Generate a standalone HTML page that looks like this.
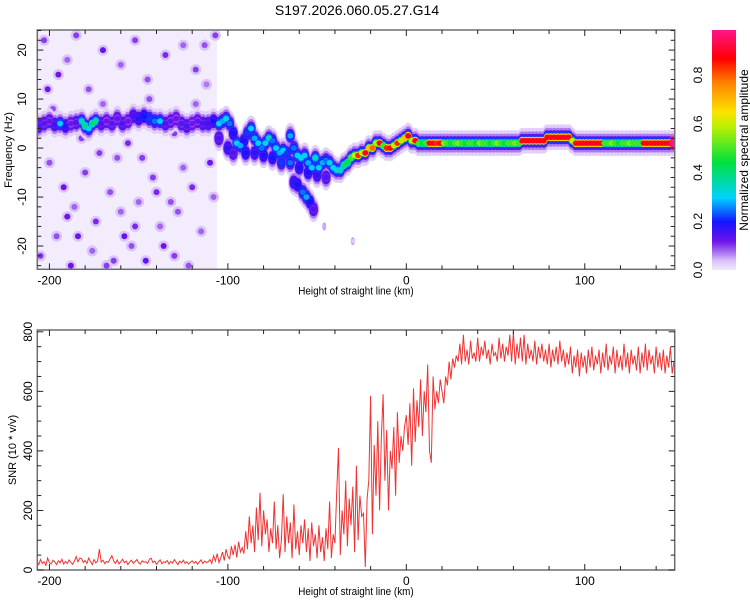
<!DOCTYPE html>
<html><head><meta charset="utf-8"><style>
body{margin:0;background:#fff;}
svg{display:block;font-family:"Liberation Sans",sans-serif;}
</style></head><body>
<svg id="c" width="750" height="600" viewBox="0 0 750 600">
<defs>
<clipPath id="clipTop"><rect x="37.3" y="30" width="637.4" height="239.3"/></clipPath>
<clipPath id="clipBot"><rect x="37.3" y="330" width="637.4" height="240"/></clipPath>
<linearGradient id="cbGrad" x1="0" y1="1" x2="0" y2="0">
<stop offset="0" stop-color="#f2eafc"/><stop offset="0.04" stop-color="#d7bef8"/><stop offset="0.08" stop-color="#a064f0"/>
<stop offset="0.12" stop-color="#6e14eb"/><stop offset="0.2" stop-color="#1414ff"/><stop offset="0.3" stop-color="#00d2ff"/>
<stop offset="0.45" stop-color="#00e13c"/><stop offset="0.6" stop-color="#bef000"/><stop offset="0.66" stop-color="#ffe100"/>
<stop offset="0.78" stop-color="#ff8200"/><stop offset="0.88" stop-color="#ff0000"/><stop offset="1" stop-color="#ff148c"/>
</linearGradient>
</defs>
<text x="357" y="15" font-size="14" text-anchor="middle" fill="#000">S197.2026.060.05.27.G14</text>
<g id="topPanel"></g>
<g id="botPanel"></g>
<g id="cbPanel"></g>
</svg>
<script>
// ---- SNR data (1 km steps from -207 to 150) ----
const snrStartKm = -207;
const snrValues = [
30,18,35,22,28,15,40,25,20,33,27,18,31,24,36,20,29,22,34,26,
19,30,45,28,40,38,25,32,22,40,28,18,35,24,30,70,27,33,21,29,
26,38,48,30,22,34,20,28,36,25,30,18,27,33,22,29,35,24,20,31,
26,28,22,36,40,25,30,19,27,34,21,28,25,32,20,29,23,35,27,18,
30,24,33,22,28,20,26,31,23,29,19,27,34,22,30,25,28,
35,22,48,30,55,25,40,60,32,70,45,38,80,50,85,42,95,60,75,55,
130,70,180,90,150,60,210,100,260,80,
200,120,170,60,140,90,230,70,150,40,
100,255,60,180,90,160,40,220,70,130,
50,150,90,170,60,140,30,160,80,120,
40,150,60,110,30,140,70,230,40,120,
90,260,410,50,200,120,300,80,240,150,280,60,350,100,250,180,190,10,240,300,
585,120,420,250,500,200,440,590,300,470,200,400,340,480,250,530,360,450,400,480,
520,420,560,350,610,430,570,480,640,450,600,530,690,400,360,650,540,600,560,640,
600,560,650,620,700,640,710,680,720,700,
760,690,790,700,740,690,770,710,730,700,780,700,750,720,770,710,740,690,760,720,
730,700,780,710,760,700,750,720,790,700,
800,690,760,710,780,700,790,690,760,710,740,700,770,690,750,710,760,700,740,690,
760,680,740,700,750,690,770,700,740,680,730,690,750,660,720,680,740,650,730,680,
720,660,740,680,750,670,720,690,740,660,730,680,760,670,720,690,750,660,740,680,
720,670,760,680,730,660,740,690,720,670,750,660,730,680,760,670,740,690,720,660,
750,680,730,670,740,660,720,680,750,660,700];
const xTicks = [-200,-100,0,100];
const freqTicks = [-20,-10,0,10,20];
const snrTicks = [0,200,400,600,800];
const cbTicks = [0.0,0.2,0.4,0.6,0.8];

// ---- spectrogram ridge ----
const ridgeKm = [-206,-203,-200,-197,-194,-191,-188,-185,-182,-180,-178,-176,-174,-171,-168,-165,-162,-159,-156,-153,-150,-147,-144,-141,-138,-135,-132,-129,-126,-123,-120,-117,-114,-111,-108,-105,-103,-101,-99,
-97,-95,-93,-91,-89,-87,-85,-83,-81,-79,-77,-75,-73,-71,-69,-67,-65,-63,-61,-59,-57,-55,-53,-51,-49,-47,-45,-43,-41,-39,-37,-35,
-105,-100,-97,-90,-85,-80,-75,-70,-65,-60,-55,-50,-45,
-63,-61,-58,-56,-54,-52,-46,-30,
-33,-31,-29,-27,-25,-23,-21,-19,-17,-15,-13,-11,-9,-7,-5,-3,-1,1,3,5,7,
9,11,13,15,17,19,21,23,25,27,29,31,33,35,37,39,41,43,45,47,49,51,53,55,57,59,61,63,65,67,69,71,73,75,77,79,81,83,85,87,89,91,93,95,97,99,101,103,105,107,109,111,113,115,117,119,121,123,125,127,129,131,133,135,137,139,141,143,145,147,149];
const ridgeHz = [4.5,5,5.5,4.8,5,4.5,5,5.2,5.5,4.5,4,5,5.5,5,5.5,5,6,5,5.5,6.5,6,6.5,6,5.5,5.5,5,5.5,6,5,4.5,5,5.5,5,5,5.5,5,5.5,6,5,
3,1,0.5,1.5,3,4,2,1,0,1,2,1.5,0,-1,-0.5,-1,2.5,0,-1.5,-2,-1.5,-3,-4,-2,-4,-3,-2.5,-3,-4,-4.5,-4.5,-3.5,
2,0,-1,-1,-1,-1.5,-2,-3,-3,-4,-5,-5.5,-6,
-7,-7.5,-9,-10,-11,-12.5,-16,-19,
-3,-2,-1.5,-1.5,-1,-1,0,0,1,1,0.5,0,0,0.5,1,1.5,2,2.5,1.5,1.5,1,
1,1,1,1,1,1,1,1,1,1,1,1,1,1,1,1,1,1,1,1,1,1,1,1,1,1,1,1,1.5,1.5,1.5,1.5,1.5,1.5,1.5,2.2,2.2,2.2,2.2,2.2,2.2,2.2,1.5,1,1,1,1,1,1,1,1,1,1,1,1,1,1,1,1,1,1,1,1,1,1,1,1,1,1,1,1,1,1,1];
const ridgeAmp = [.15,.14,.13,.16,.3,.18,.12,.14,.35,.4,.3,.42,.38,.15,.12,.14,.13,.15,.12,.16,.18,.2,.22,.25,.3,.15,.13,.12,.14,.15,.12,.13,.15,.16,.2,.3,.28,.32,.25,
.2,.3,.28,.2,.22,.3,.28,.3,.25,.3,.35,.25,.3,.28,.3,.22,.28,.25,.3,.32,.3,.28,.3,.35,.3,.28,.25,.3,.3,.32,.35,.4,
.15,.18,.15,.2,.18,.2,.2,.22,.25,.2,.2,.18,.15,
.18,.2,.25,.28,.2,.15,.05,.03,
.45,.5,.6,.85,.6,.9,.7,.8,.6,.9,.5,.85,.9,.6,.85,.6,.7,.9,.6,.9,.5,
.45,.5,.9,.9,.85,.9,.55,.5,.45,.5,.55,.5,.45,.5,.5,.45,.55,.5,.5,.45,.5,.55,.5,.45,.5,.5,.55,.5,.9,.9,.9,.9,.9,.9,.9,.9,.9,.9,.9,.9,.9,.9,.6,.9,.9,.9,.9,.9,.9,.9,.9,.5,.5,.55,.5,.45,.5,.5,.55,.5,.5,.5,.9,.9,.9,.9,.9,.9,.9,.9];

// ---- spectrogram noise blobs ----
const noiseKm = [-203,-195,-190,-185,-178,-170,-160,-152,-145,-135,-125,-118,-112,-200,-192,-186,-180,-174,-166,-158,-150,-142,-136,-128,-120,-115,-205,-196,-188,-176,-164,-154,-146,-138,-130,-122,-110,-108,-198,-182,-170,-156,-144,-130,-118,-201,-162,-148,-125,-140,-132,-172,-184,-160,-113,-107,-152,-190,-134,-168];
const noiseHz = [22,15,18,23,12,20,17,22,14,19,21,16,13,-3,-8,-12,-5,-15,-9,-18,-11,-6,-20,-13,-8,-17,-22,-18,-24,-21,-23,-20,-23,-16,-22,-24,-3,-10,8,2,9,1,10,3,9,12,-2,-2,-4,-9,-11,-1,-18,-13,21,23,-16,-14,6,-24];
const noiseAmp = [.1,.12,.08,.1,.09,.13,.08,.1,.09,.11,.08,.1,.07,.09,.12,.08,.1,.11,.09,.13,.08,.1,.12,.09,.11,.08,.1,.09,.12,.08,.1,.09,.13,.08,.1,.09,.12,.08,.09,.1,.08,.11,.09,.1,.08,.12,.09,.1,.08,.11,.09,.1,.12,.08,.09,.1,.11,.12,.09,.1];

const NS = "http://www.w3.org/2000/svg";
function el(tag, attrs, parent){ const e=document.createElementNS(NS,tag); for(const k in attrs) e.setAttribute(k,attrs[k]); parent.appendChild(e); return e; }
const stops=[[0,242,234,252],[0.04,215,190,248],[0.08,160,100,240],[0.12,110,20,235],[0.2,20,20,255],[0.3,0,210,255],[0.45,0,225,60],[0.6,190,240,0],[0.66,255,225,0],[0.78,255,130,0],[0.88,255,0,0],[1,255,20,140]];
function cmap(v){ v=Math.max(0,Math.min(1,v)); for(let i=1;i<stops.length;i++){ if(v<=stops[i][0]){ const a=stops[i-1],b=stops[i],t=(v-a[0])/(b[0]-a[0]); return `rgb(${Math.round(a[1]+t*(b[1]-a[1]))},${Math.round(a[2]+t*(b[2]-a[2]))},${Math.round(a[3]+t*(b[3]-a[3]))})`; } } return "rgb(255,20,140)"; }

const X0=37.3, X1=674.7, KM0=-206.8, KM1=150.4;
const xs = km => X0+(km-KM0)*(X1-X0)/(KM1-KM0);
const TY0=30, TY1=269.3, HZ0=-24.75, HZ1=24.1;
const yf = hz => TY1-(hz-HZ0)*(TY1-TY0)/(HZ1-HZ0);
const BY0=330, BY1=570, V1=806;
const yv = v => BY1-v*(BY1-BY0)/V1;

const topG=document.getElementById('topPanel'), botG=document.getElementById('botPanel'), cbG=document.getElementById('cbPanel');

const spec=el('g',{'clip-path':'url(#clipTop)'},topG);


const haze=el('rect',{x:xs(-207),y:TY0,width:xs(-106)-xs(-207),height:TY1-TY0,fill:'#f3ecfd'},spec);


for(let i=0;i<noiseKm.length;i++){
  el('circle',{cx:xs(noiseKm[i]),cy:yf(noiseHz[i]),r:5.5,fill:cmap(0.035)},spec);
}
for(let i=0;i<noiseKm.length;i++){
  const c=el('circle',{cx:xs(noiseKm[i]),cy:yf(noiseHz[i]),r:3,fill:cmap(noiseAmp[i])},spec);
  
  
}
const layers=[[6,13,a=>0.025],[5,9.5,a=>0.07],[4.5,7,a=>Math.min(a,0.14)],[4,5.5,a=>Math.min(a,0.22)],[3.5,4,a=>a*0.75],[3,2.8,a=>a]];
layers.forEach(L=>{
  for(let i=0;i<ridgeKm.length;i++){
    const s = ridgeAmp[i]<0.1 ? 0.35 : 1;
    const e=el('ellipse',{cx:xs(ridgeKm[i]),cy:yf(ridgeHz[i]),rx:L[0]*s,ry:L[1]*s,fill:cmap(L[2](ridgeAmp[i]))},spec);
    
    
  }
});

function frame(g,y0,y1){
  el('rect',{x:X0,y:y0,width:X1-X0,height:y1-y0,fill:'none',stroke:'#6e6e6e','stroke-width':1.5},g);
}
function xAxis(g,y0,y1){
  for(let km=-200;km<=150;km+=20){
    const major=km%100===0, L=major?6:4, x=xs(km);
    el('line',{x1:x,y1:y1,x2:x,y2:y1-L,stroke:'#222','stroke-width':1},g);
    el('line',{x1:x,y1:y0,x2:x,y2:y0+L,stroke:'#222','stroke-width':1},g);
  }
  xTicks.forEach(t=>{
    const tx=el('text',{x:xs(t),y:y1+15,'font-size':12,'text-anchor':'middle'},g);
    tx.textContent=String(t);
    
    
  });
  const tt=el('text',{x:356,y:y1+25,'font-size':11,'text-anchor':'middle',transform:`translate(356 0) scale(0.9 1) translate(-356 0)`},g);
  tt.textContent='Height of straight line (km)';
  
  
}
frame(topG,TY0,TY1); xAxis(topG,TY0,TY1);
for(let f=-24;f<=24;f+=2){ const y=yf(f), L=f%10===0?6:4;
  el('line',{x1:X0,y1:y,x2:X0+L,y2:y,stroke:'#222'},topG); el('line',{x1:X1,y1:y,x2:X1-L,y2:y,stroke:'#222'},topG); }
freqTicks.forEach(t=>{ const y=yf(t);
  const tx=el('text',{x:0,y:0,'font-size':12,'text-anchor':'middle',transform:`translate(26 ${y}) rotate(-90)`},topG);
  tx.textContent=String(t);
  
  
});
const fy=el('text',{x:0,y:0,'font-size':11,'text-anchor':'middle',transform:`translate(12 150) rotate(-90)`},topG);
fy.textContent='Frequency (Hz)';



const pts=snrValues.map((v,i)=>`${xs(snrStartKm+i).toFixed(1)},${yv(v).toFixed(1)}`).join(' ');
const line=el('polyline',{points:pts,fill:'none',stroke:'#f03232','stroke-width':1,'clip-path':'url(#clipBot)'},botG);


frame(botG,BY0,BY1); xAxis(botG,BY0,BY1);
for(let v=0;v<=800;v+=50){ const y=yv(v), L=v%200===0?6:4;
  el('line',{x1:X0,y1:y,x2:X0+L,y2:y,stroke:'#222'},botG); el('line',{x1:X1,y1:y,x2:X1-L,y2:y,stroke:'#222'},botG); }
snrTicks.forEach(t=>{ const y=yv(t);
  const tx=el('text',{x:0,y:0,'font-size':12,'text-anchor':'middle',transform:`translate(32 ${y}) rotate(-90)`},botG);
  tx.textContent=String(t);
  
  
});
const sy=el('text',{x:0,y:0,'font-size':11,'text-anchor':'middle',transform:`translate(16 450) rotate(-90)`},botG);
sy.textContent='SNR (10 * v/v)';



const CB0=270, CB1=30;
const cbr=el('rect',{x:712,y:CB1,width:24,height:CB0-CB1,fill:'url(#cbGrad)'},cbG);


const cy = v => CB0-(v)*(CB0-CB1)/0.985;
cbTicks.forEach(t=>{
  const tx=el('text',{x:0,y:0,'font-size':12,'text-anchor':'middle',transform:`translate(702 ${cy(t)}) rotate(-90)`},cbG);
  tx.textContent=t.toFixed(1);
  
  
});
const ct=el('text',{x:0,y:0,'font-size':12,'text-anchor':'middle',transform:`translate(748 150) rotate(-90)`},cbG);
ct.textContent='Normalized spectral amplitude';


</script>
</body></html>
